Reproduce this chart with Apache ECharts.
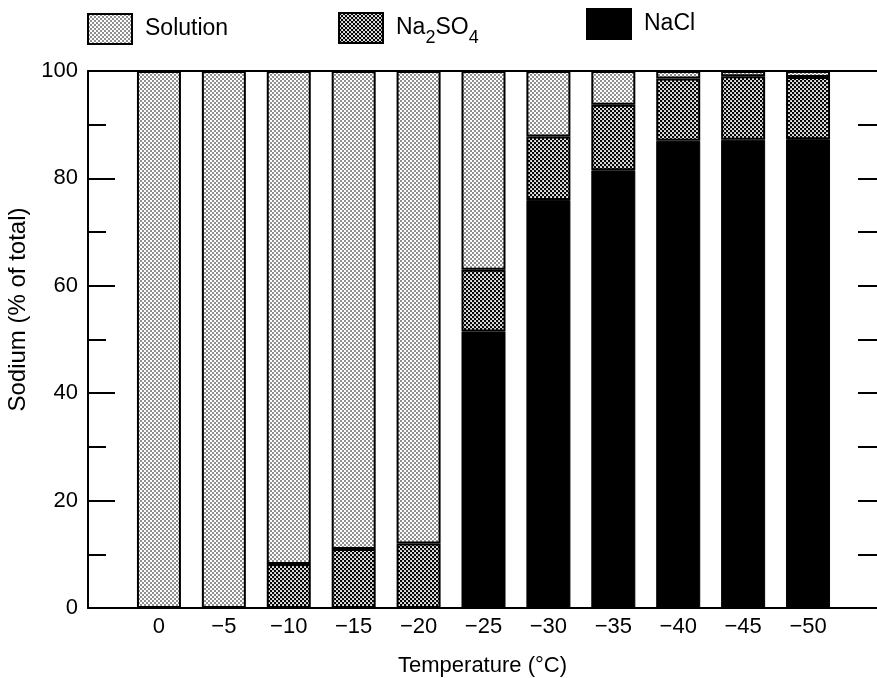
<!DOCTYPE html>
<html>
<head>
<meta charset="utf-8">
<script src="https://cdn.jsdelivr.net/npm/echarts@6/dist/echarts.min.js"></script>
<style>
html,body{margin:0;padding:0;background:#fff;}
#chart{width:877px;height:678px;}
</style>
</head>
<body>
<div id="chart"></div>
<script>
// Data
var temperatures = ['0', '\u22125', '\u221210', '\u221215', '\u221220', '\u221225', '\u221230', '\u221235', '\u221240', '\u221245', '\u221250'];
var naclValues     = [0, 0, 0, 0, 0, 51.5, 76, 81.5, 87, 87.2, 87.3];
var na2so4Values   = [0, 0, 8.2, 11, 12, 11.5, 11.8, 12.2, 11.6, 11.8, 11.6];
var solutionValues = [100, 100, 91.8, 89, 88, 37, 12.2, 6.3, 1.4, 1, 1.1];
var yTicks = [0, 20, 40, 60, 80, 100];

function makePattern(bgColor, dotRadius) {
  var c = document.createElement('canvas');
  c.width = 4; c.height = 4;
  var ctx = c.getContext('2d');
  ctx.fillStyle = bgColor;
  ctx.fillRect(0, 0, 4, 4);
  ctx.fillStyle = '#000';
  [[1, 1], [3, 3], [-1, 3], [3, -1], [5, 3], [3, 5], [-1, -1], [5, 5], [-1, 5], [5, -1]].forEach(function (p) {
    ctx.beginPath();
    ctx.arc(p[0], p[1], dotRadius, 0, Math.PI * 2);
    ctx.fill();
  });
  return { image: c, repeat: 'repeat' };
}
var solutionFill = makePattern('#fff', 0.8);
var na2so4Fill = makePattern('#fff', 1.25);

var FONT = 'Liberation Sans';
var chart = echarts.init(document.getElementById('chart'), null, { renderer: 'canvas' });

var legendBase = {
  orient: 'horizontal',
  padding: 0,
  itemWidth: 44,
  itemHeight: 30,
  icon: 'rect',
  selectedMode: false,
  textStyle: { fontFamily: FONT, fontSize: 23, color: '#000', padding: [0, 0, 0, 8] }
};

chart.setOption({
  animation: false,
  backgroundColor: '#fff',
  textStyle: { fontFamily: FONT, color: '#000' },
  legend: [
    Object.assign({}, legendBase, { left: 87, top: 13, data: ['Solution'] }),
    Object.assign({}, legendBase, {
      left: 338, top: 12, data: ['Na2SO4'],
      formatter: function () { return '{a|Na}{b|2}{a|SO}{b|4}'; },
      textStyle: {
        fontFamily: FONT, fontSize: 23, color: '#000', padding: [0, 0, 0, 8],
        rich: {
          a: { fontFamily: FONT, fontSize: 23, color: '#000' },
          b: { fontFamily: FONT, fontSize: 18, color: '#000', padding: [20, 0, 0, 0] }
        }
      }
    }),
    Object.assign({}, legendBase, { left: 586, top: 8, data: ['NaCl'] })
  ],
  grid: [
    { left: 88, right: 0, top: 71, bottom: 70, outerBoundsMode: 'none', containLabel: false },
    { left: 126.5, right: 36.5, top: 71, bottom: 70, outerBoundsMode: 'none', containLabel: false }
  ],
  xAxis: [{
    gridIndex: 0,
    type: 'value',
    min: 0,
    max: 1,
    position: 'bottom',
    splitLine: { show: false },
    axisLine: { show: true, onZero: false, lineStyle: { color: '#000', width: 2 } },
    axisTick: { show: false },
    axisLabel: { show: false },
    name: 'Temperature (\u00B0C)',
    nameLocation: 'middle',
    nameGap: 47,
    nameTextStyle: { fontSize: 22, color: '#000', fontFamily: FONT }
  }, {
    gridIndex: 0,
    type: 'value',
    min: 0,
    max: 1,
    position: 'top',
    splitLine: { show: false },
    axisLine: { show: true, onZero: false, lineStyle: { color: '#000', width: 2 } },
    axisTick: { show: false },
    axisLabel: { show: false }
  }, {
    gridIndex: 1,
    type: 'category',
    data: temperatures,
    position: 'bottom',
    boundaryGap: true,
    axisLine: { show: false },
    axisTick: { show: false },
    axisLabel: { fontSize: 22, color: '#000', margin: 8, fontFamily: FONT, interval: 0 }
  }],
  yAxis: [{
    gridIndex: 0,
    type: 'value',
    min: 0,
    max: 100,
    interval: 20,
    position: 'left',
    splitLine: { show: false },
    axisLine: { show: true, onZero: false, lineStyle: { color: '#000', width: 2 } },
    axisTick: { show: true, inside: true, length: 27, lineStyle: { color: '#000', width: 2 } },
    minorTick: { show: true, splitNumber: 2, length: 18, lineStyle: { color: '#000', width: 2 } },
    axisLabel: {
      customValues: yTicks,
      fontSize: 22, color: '#000', margin: 10, fontFamily: FONT
    },
    name: 'Sodium (% of total)',
    nameLocation: 'middle',
    nameRotate: 90,
    nameGap: 45,
    nameTextStyle: { fontSize: 24, color: '#000', fontFamily: FONT, padding: [0, 0, 0, 60] }
  }, {
    gridIndex: 0,
    type: 'value',
    min: 0,
    max: 100,
    interval: 10,
    position: 'right',
    splitLine: { show: false },
    axisLine: { show: false, onZero: false },
    axisTick: { show: true, inside: true, length: 19, lineStyle: { color: '#000', width: 2 } },
    axisLabel: { show: false }
  }, {
    gridIndex: 1,
    type: 'value',
    min: 0,
    max: 100,
    show: false
  }],
  series: [{
    name: 'NaCl',
    type: 'bar',
    stack: 'total',
    xAxisIndex: 2,
    yAxisIndex: 2,
    barWidth: 44,
    itemStyle: { color: '#000', borderColor: '#000', borderWidth: 1 },
    data: naclValues
  }, {
    name: 'Na2SO4',
    type: 'bar',
    stack: 'total',
    xAxisIndex: 2,
    yAxisIndex: 2,
    barWidth: 44,
    itemStyle: { color: na2so4Fill, borderColor: '#000', borderWidth: 2 },
    data: na2so4Values
  }, {
    name: 'Solution',
    type: 'bar',
    stack: 'total',
    xAxisIndex: 2,
    yAxisIndex: 2,
    barWidth: 44,
    itemStyle: { color: solutionFill, borderColor: '#000', borderWidth: 2 },
    data: solutionValues
  }]
});
</script>
</body>
</html>
